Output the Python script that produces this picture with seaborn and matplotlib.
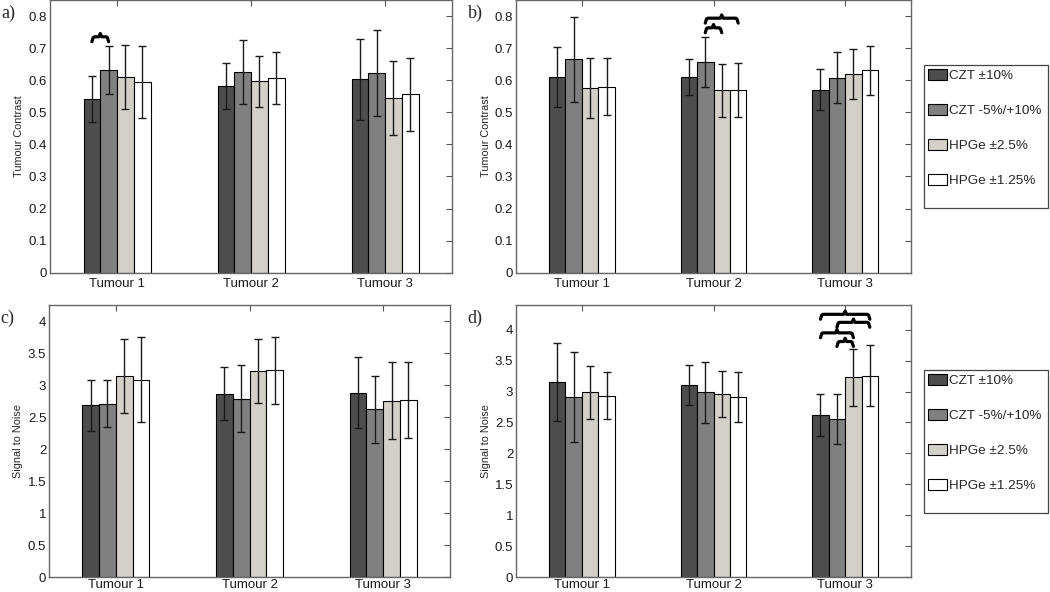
import numpy as np
import pandas as pd
import matplotlib
matplotlib.use("Agg")
import matplotlib.pyplot as plt
from matplotlib.patches import Rectangle
import seaborn as sns

# Data
tumours = ["Tumour 1", "Tumour 2", "Tumour 3"]
detectors = ["CZT \u00b110%", "CZT -5%/+10%", "HPGe \u00b12.5%", "HPGe \u00b11.25%"]
colors = ["#4d4d4d", "#808080", "#d4d0c8", "#ffffff"]

# rows = tumour, columns = detector
contrast_a = [[0.541, 0.631, 0.609, 0.594],
              [0.582, 0.625, 0.597, 0.608],
              [0.603, 0.622, 0.545, 0.556]]
contrast_a_err = [[0.072, 0.075, 0.100, 0.112],
                  [0.071, 0.100, 0.079, 0.081],
                  [0.126, 0.134, 0.115, 0.114]]

contrast_b = [[0.610, 0.665, 0.576, 0.580],
              [0.610, 0.657, 0.569, 0.570],
              [0.570, 0.608, 0.619, 0.631]]
contrast_b_err = [[0.093, 0.133, 0.094, 0.088],
                  [0.056, 0.077, 0.083, 0.085],
                  [0.064, 0.079, 0.077, 0.077]]

snr_c = [[2.684, 2.710, 3.142, 3.085],
         [2.866, 2.788, 3.215, 3.230],
         [2.882, 2.622, 2.757, 2.767]]
snr_c_err = [[0.40, 0.37, 0.575, 0.66],
             [0.42, 0.53, 0.50, 0.525],
             [0.55, 0.525, 0.60, 0.595]]

snr_d = [[3.154, 2.911, 2.987, 2.933],
         [3.105, 2.987, 2.954, 2.911],
         [2.620, 2.555, 3.229, 3.256]]
snr_d_err = [[0.636, 0.725, 0.426, 0.38],
             [0.326, 0.488, 0.372, 0.41],
             [0.334, 0.41, 0.455, 0.49]]

# significance braces: (tumour index, detector i, detector j, level)
braces_a = [(0, 0, 1, 0.720)]
braces_b = [(1, 1, 3, 0.778), (1, 1, 2, 0.748)]
braces_d = [(2, 0, 3, 4.17), (2, 1, 3, 4.04), (2, 0, 2, 3.87), (2, 1, 2, 3.73)]

sns.set_style("white")
plt.rcParams["font.family"] = ["Liberation Sans", "DejaVu Sans"]
plt.rcParams["xtick.direction"] = "in"
plt.rcParams["ytick.direction"] = "in"

W, H = 1050, 592


def long_df(values):
    rows = []
    for t, row in zip(tumours, values):
        for d, v in zip(detectors, row):
            rows.append({"tumour": t, "detector": d, "value": v})
    return pd.DataFrame(rows)


def brace(ax, xa, xb, y, h):
    d = 0.018
    xm = (xa + xb) / 2
    xs = [xa, xa + d * 0.5, xa + d, xm - d * 0.6, xm, xm + d * 0.6, xb - d, xb - d * 0.5, xb]
    ys = [y, y + h * 0.5, y + h * 0.6, y + h * 0.6, y + h, y + h * 0.6, y + h * 0.6, y + h * 0.5, y]
    ax.plot(xs, ys, color="black", lw=2.3, solid_joinstyle="round", solid_capstyle="round",
            clip_on=False)


def panel(ax, values, errs, ymax, yticks, ylabel, letter, braces, legend, xpad):
    df = long_df(values)
    sns.barplot(data=df, x="tumour", y="value", hue="detector", hue_order=detectors,
                palette=colors, width=0.5, edgecolor="black", linewidth=0.8,
                errorbar=None, legend=legend, ax=ax)
    bar_sets = list(ax.containers)
    centers = {}
    for i, cont in enumerate(bar_sets):
        for j, bar in enumerate(cont.patches):
            x = bar.get_x() + bar.get_width() / 2
            centers[(j, i)] = x
            ax.errorbar(x, bar.get_height(), yerr=errs[j][i], fmt="none",
                        ecolor="#1a1a1a", elinewidth=1.0, capsize=2.6, capthick=1.0)
    h = 0.03 * ymax
    for t, i, k, y in braces:
        brace(ax, centers[(t, i)], centers[(t, k)], y, h)
    ax.set_xlim(-0.5, 2.5)
    ax.set_ylim(0, ymax)
    ax.set_yticks(yticks)
    ax.set_yticklabels([f"{v:g}" for v in yticks])
    ax.set_xlabel("")
    ax.set_ylabel(ylabel, fontsize=7.8)
    ax.yaxis.set_label_coords(-0.064, 0.5)
    ax.tick_params(axis="both", labelsize=9.5, length=4, width=0.8, colors="#555555",
                   labelcolor="#1a1a1a", top=True, right=True)
    ax.tick_params(axis="x", pad=xpad)
    ax.tick_params(axis="y", pad=2)
    for s in ax.spines.values():
        s.set_color("#666666")
        s.set_linewidth(1.0)
    ax.text(-0.122, 0.95, letter, transform=ax.transAxes, fontsize=13,
            family=["Liberation Serif", "DejaVu Serif"], va="center", ha="left")
    if legend:
        sns.move_legend(ax, "upper left", bbox_to_anchor=(1.035, 0.758), title=None,
                        frameon=False, fontsize=9.7,
                        handlelength=1.45, handleheight=0.95, handletextpad=0.12,
                        labelspacing=1.6, borderpad=0.2, borderaxespad=0)
        # MATLAB-style legend box with extra room at the bottom
        pos = ax.get_position()
        top_px = (1 - pos.y1) * H + 65
        fig.patches.append(Rectangle((924 / W, 1 - (top_px + 143) / H), 124 / W, 143 / H,
                                     transform=fig.transFigure, fill=False,
                                     edgecolor="#444444", linewidth=0.9))


fig = plt.figure(figsize=(10.5, 5.92), dpi=100)
ax_a = fig.add_axes([50 / W, 1 - 272.7 / H, 402 / W, 272.7 / H])
ax_b = fig.add_axes([516 / W, 1 - 272.7 / H, 395 / W, 272.7 / H])
ax_c = fig.add_axes([49 / W, 1 - 577 / H, 401 / W, 272 / H])
ax_d = fig.add_axes([516 / W, 1 - 577 / H, 395 / W, 272 / H])

ct_ticks = [0, 0.1, 0.2, 0.3, 0.4, 0.5, 0.6, 0.7, 0.8]
snr_ticks = [0, 0.5, 1, 1.5, 2, 2.5, 3, 3.5, 4]

panel(ax_a, contrast_a, contrast_a_err, 0.85, ct_ticks, "Tumour Contrast", "a)", braces_a, False, 4)
panel(ax_b, contrast_b, contrast_b_err, 0.85, ct_ticks, "Tumour Contrast", "b)", braces_b, True, 4)
panel(ax_c, snr_c, snr_c_err, 4.25, snr_ticks, "Signal to Noise", "c)", [], False, 1.5)
panel(ax_d, snr_d, snr_d_err, 4.4, snr_ticks, "Signal to Noise", "d)", braces_d, True, 1.5)

fig.savefig("out.png", dpi=100)
